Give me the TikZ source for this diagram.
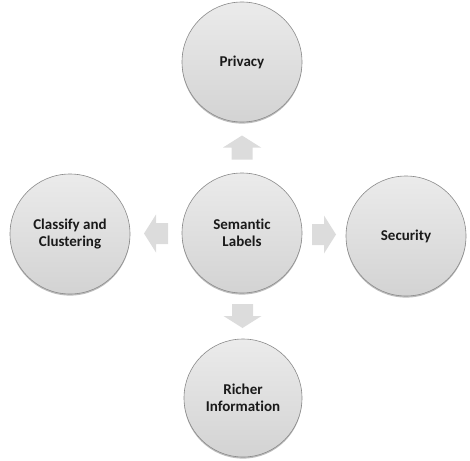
\documentclass[tikz,border=0pt]{standalone}
\usepackage{fontspec}
\setmainfont{Carlito}[Ligatures=NoCommon]
\usetikzlibrary{calc}
\definecolor{discrim}{HTML}{8A8A8A}
\definecolor{disctop}{HTML}{EBEBEB}
\definecolor{discbot}{HTML}{D3D3D3}
\definecolor{arrowgray}{HTML}{DCDCDC}
\definecolor{inkgray}{HTML}{1A1A1A}
\begin{document}
\begin{tikzpicture}[x=1pt,y=-1pt,
  disc/.style={circle, minimum size=120pt, inner sep=0pt, align=center,
    top color=disctop, bottom color=discbot, draw=discrim, line width=0.6pt,
    text=inkgray, font=\bfseries\fontsize{15}{17.5}\selectfont,
    preaction={fill=discrim!80, opacity=0.7, transform canvas={yshift=-1.6pt}}},
  blockarrow/.pic={
    \fill[arrowgray] (-12,-10.5) -- (0,-10.5) -- (0,-19) -- (12,0)
      -- (0,19) -- (0,10.5) -- (-12,10.5) -- cycle;}
]
\useasboundingbox (0,0) rectangle (470,460);

\node[disc] (sem) at (242,233) {Semantic\\Labels};
\node[disc] (priv) at (242,62) {Privacy};
\node[disc] (cls) at (70,234) {Classify and\\Clustering};
\node[disc] (sec) at (406,236) {Security};
\node[disc, minimum size=118pt] (rich) at (243,398) {Richer\\Information};

% block arrows pointing outward from the centre disc
\coordinate (aup) at ($(sem.north)!0.5!(priv.south)$);
\coordinate (adown) at ($(sem.south)!0.5!(rich.north)$);
\coordinate (aleft) at ($(sem.west)!0.5!(cls.east)$);
\coordinate (aright) at ($(sem.east)!0.5!(sec.west)$);
\pic[rotate=90] at (aup) {blockarrow};
\pic[rotate=-90] at (adown) {blockarrow};
\pic[rotate=180] at (aleft) {blockarrow};
\pic at (aright) {blockarrow};
\end{tikzpicture}
\end{document}
